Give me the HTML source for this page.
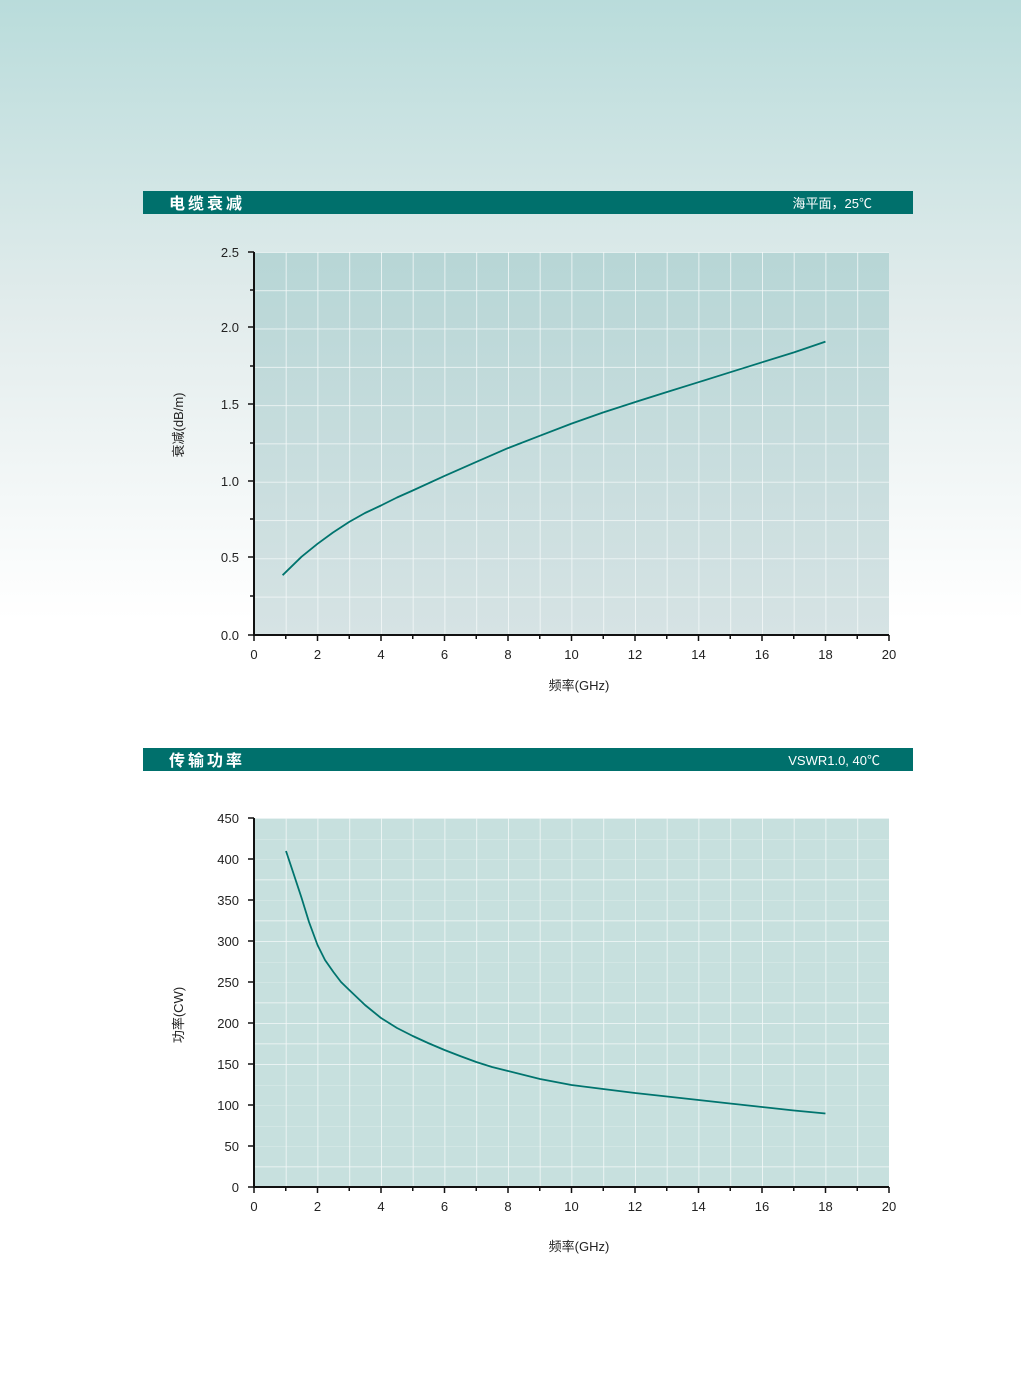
<!DOCTYPE html>
<html><head><meta charset="utf-8"><style>
html,body{margin:0;padding:0;width:1021px;height:1374px;overflow:hidden;background:#fff}
text{font-family:"Liberation Sans","Noto Sans CJK SC",sans-serif}
</style></head><body>
<svg width="1021" height="1374" xmlns="http://www.w3.org/2000/svg">
<defs>
<linearGradient id="bg" x1="0" y1="0" x2="0" y2="1">
<stop offset="0" stop-color="#b9dcdb"/><stop offset="0.5" stop-color="#e2ecec"/><stop offset="1" stop-color="#ffffff"/>
</linearGradient>
<linearGradient id="p1" x1="0" y1="0" x2="0" y2="1">
<stop offset="0" stop-color="#b7d6d6"/><stop offset="1" stop-color="#d6e3e4"/>
</linearGradient>
<pattern id="g1" x="254" y="252" width="31.75" height="38.3" patternUnits="userSpaceOnUse">
<path d="M0 0H31.75M0 0V38.3" stroke="#f4f8f8" stroke-width="1.6" fill="none"/>
</pattern>
<pattern id="g2" x="254" y="818" width="31.75" height="20.5" patternUnits="userSpaceOnUse">
<path d="M0 0H31.75M0 0V20.5" stroke="#f4f8f8" stroke-width="1.6" fill="none"/>
</pattern>
</defs>
<rect width="1021" height="620" fill="url(#bg)"/>

<rect x="143" y="191" width="770" height="23" fill="#00706c"/>
<text x="169" y="209" font-size="16" fill="#fff" letter-spacing="3" font-weight="bold">电缆衰减</text>
<text x="872" y="208" font-size="13" fill="#fff" text-anchor="end">海平面，25℃</text>

<rect x="254" y="252" width="635" height="383" fill="url(#p1)"/>
<rect x="254" y="252" width="635" height="383" fill="url(#g1)"/>
<g stroke="#111" stroke-width="2" fill="none">
<path d="M254 252V636M253 635H889"/>
</g>
<g stroke="#111" stroke-width="1.5">
<path d="M248 252H254M248 327H254M248 404H254M248 481H254M248 557H254M248 635H254"/>
<path d="M250 290H254M250 366H254M250 443H254M250 519H254M250 596H254"/>
<path d="M254 635V641M317.5 635V641M381 635V641M444.5 635V641M508 635V641M571.5 635V641M635 635V641M698.5 635V641M762 635V641M825.5 635V641M889 635V641"/>
<path d="M285.75 635V639M349.25 635V639M412.75 635V639M476.25 635V639M539.75 635V639M603.25 635V639M666.75 635V639M730.25 635V639M793.75 635V639M857.25 635V639"/>
</g>
<g font-size="13" fill="#222" text-anchor="end">
<text x="239" y="257">2.5</text><text x="239" y="332">2.0</text><text x="239" y="409">1.5</text>
<text x="239" y="486">1.0</text><text x="239" y="562">0.5</text><text x="239" y="640">0.0</text>
</g>
<g font-size="13" fill="#222" text-anchor="middle">
<text x="254" y="659">0</text><text x="317.5" y="659">2</text><text x="381" y="659">4</text><text x="444.5" y="659">6</text><text x="508" y="659">8</text><text x="571.5" y="659">10</text><text x="635" y="659">12</text><text x="698.5" y="659">14</text><text x="762" y="659">16</text><text x="825.5" y="659">18</text><text x="889" y="659">20</text>
</g>
<text x="579" y="690" font-size="13" fill="#222" text-anchor="middle">频率(GHz)</text>
<text transform="translate(183,425) rotate(-90)" font-size="13" fill="#222" text-anchor="middle">衰减(dB/m)</text>
<polyline points="282.6,575.2 301.6,556.7 317.5,543.8 333,532.5 349.25,521.9 365,513 381,505.5 397,497.5 412.75,490.5 444.5,475.9 476.25,461.9 508,448.1 539.75,435.8 571.5,423.6 603,412.5 635,402.1 667,392 698.5,382.2 730,372.3 762,362.3 794,352.4 825.5,341.6" stroke="#00746e" stroke-width="1.8" fill="none" stroke-linejoin="round"/>

<rect x="143" y="748" width="770" height="23" fill="#00706c"/>
<text x="169" y="766" font-size="16" fill="#fff" letter-spacing="3" font-weight="bold">传输功率</text>
<text x="880" y="765" font-size="13" fill="#fff" text-anchor="end">VSWR1.0, 40℃</text>

<rect x="254" y="818" width="635" height="369" fill="#c7e0de"/>
<rect x="254" y="818" width="635" height="369" fill="url(#g2)"/>
<g stroke="#111" stroke-width="2" fill="none">
<path d="M254 818V1188M253 1187H889"/>
</g>
<g stroke="#111" stroke-width="1.5">
<path d="M248 818H254M248 859H254M248 900H254M248 941H254M248 982H254M248 1023H254M248 1064H254M248 1105H254M248 1146H254M248 1187H254"/>
<path d="M254 1187V1193M317.5 1187V1193M381 1187V1193M444.5 1187V1193M508 1187V1193M571.5 1187V1193M635 1187V1193M698.5 1187V1193M762 1187V1193M825.5 1187V1193M889 1187V1193"/>
<path d="M285.75 1187V1191M349.25 1187V1191M412.75 1187V1191M476.25 1187V1191M539.75 1187V1191M603.25 1187V1191M666.75 1187V1191M730.25 1187V1191M793.75 1187V1191M857.25 1187V1191"/>
</g>
<g font-size="13" fill="#222" text-anchor="end">
<text x="239" y="823">450</text><text x="239" y="864">400</text><text x="239" y="905">350</text><text x="239" y="946">300</text><text x="239" y="987">250</text><text x="239" y="1028">200</text><text x="239" y="1069">150</text><text x="239" y="1110">100</text><text x="239" y="1151">50</text><text x="239" y="1192">0</text>
</g>
<g font-size="13" fill="#222" text-anchor="middle">
<text x="254" y="1211">0</text><text x="317.5" y="1211">2</text><text x="381" y="1211">4</text><text x="444.5" y="1211">6</text><text x="508" y="1211">8</text><text x="571.5" y="1211">10</text><text x="635" y="1211">12</text><text x="698.5" y="1211">14</text><text x="762" y="1211">16</text><text x="825.5" y="1211">18</text><text x="889" y="1211">20</text>
</g>
<text x="579" y="1251" font-size="13" fill="#222" text-anchor="middle">频率(GHz)</text>
<text transform="translate(183,1015) rotate(-90)" font-size="13" fill="#222" text-anchor="middle">功率(CW)</text>
<polyline points="286,851 293,872 301.6,898 309,922 317.5,945 325,960 333.4,972 341,982 349.25,990 365,1005 381,1018 397,1028 412.75,1036 428,1043 444.5,1050 460,1056 476.25,1062 492,1067 508,1071 540,1079 571.5,1085 603,1089 635,1093 667,1096.5 698.5,1100 730,1103.5 762,1107 794,1110.5 825.5,1113.5" stroke="#00746e" stroke-width="1.8" fill="none" stroke-linejoin="round"/>
</svg>
</body></html>
